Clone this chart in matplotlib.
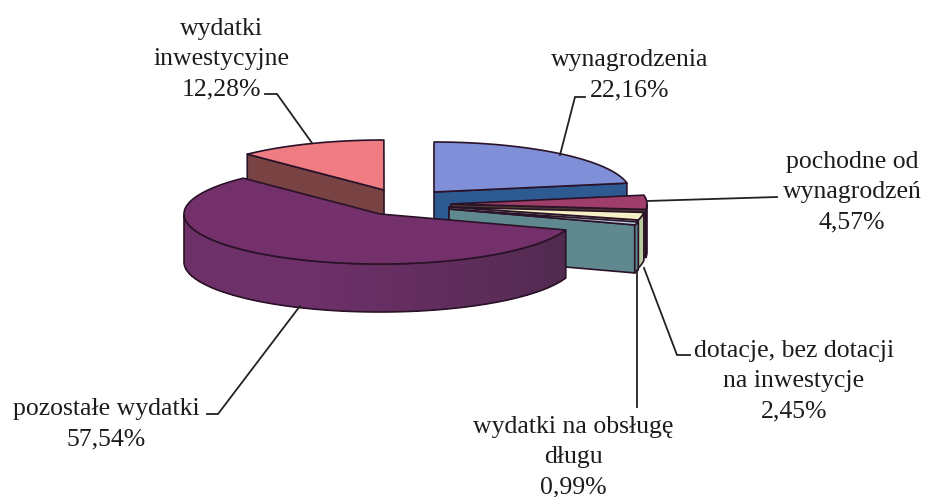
import numpy as np
import matplotlib
matplotlib.use("Agg")
import matplotlib.pyplot as plt
from matplotlib.colors import to_rgb
from matplotlib.patches import Polygon

plt.rcParams["font.family"] = ["Liberation Serif", "DejaVu Serif"]

# ---- data (clockwise from 12 o'clock) ---------------------------------
names = ["wynagrodzenia", "pochodne", "dotacje", "dlug", "pozostale", "inwestycje"]
shares = [22.16, 4.57, 2.45, 0.99, 57.54, 12.28]

# ---- look of each slice ------------------------------------------------
top_colors = ["#7f8fd8", "#a03e6a", "#f6f1c4", "#b9cfe0", "#74306a", "#ee7c82"]
wall_colors = ["#2e5a92", "#4a3a30", "#b9cca0", "#5f898e", "#4f2a4e", "#7a4343"]
wall_far = "#6d3068"  # purple rim gets lighter towards the left
# pie centre in pixels per slice (the explosion)
centers = [(434, 192), (451, 204), (449, 207), (449, 209), (380, 214), (384, 190)]
draw_order = [5, 0, 1, 2, 3, 4]
RX, RY, DEPTH = 196, 50, 48
EDGE = "#2a1228"

# label lines, centre x, baseline of the first line
labels = [
    (["wynagrodzenia", "22,16%"], 630, 66),
    (["pochodne od", "wynagrodzeń", "4,57%"], 852, 168),
    (["dotacje, bez dotacji", "na inwestycje", "2,45%"], 794, 357),
    (["wydatki na obsługę", "długu", "0,99%"], 573, 433),
    (["pozostałe wydatki", "57,54%"], 106, 415),
    (["wydatki", "inwestycyjne", "12,28%"], 221, 35),
]
LINE_STEP = 30
leaders = [
    ([585, 575, 560], [97, 97, 155]),
    ([647, 777], [201, 197]),
    ([644, 677, 690], [268, 355, 355]),
    ([637, 637], [270, 407]),
    ([300, 218, 207], [306, 414, 414]),
    ([265, 277, 312], [94, 94, 143]),
]


def arc(cx, cy, t1, t2, dy=0.0):
    t = np.radians(np.linspace(t1, t2, max(int(abs(t2 - t1)) * 2, 2) + 1))
    return np.column_stack([cx + RX * np.sin(t), cy - RY * np.cos(t) + dy])


fig = plt.figure(figsize=(9.25, 4.97), dpi=100)
ax = fig.add_axes([0, 0, 1, 1])
ax.set_xlim(0, 925)
ax.set_ylim(497, 0)
ax.axis("off")

ends = np.cumsum(shares) * 3.6
starts = np.concatenate([[0], ends[:-1]])

for i in draw_order:
    cx, cy = centers[i]
    t1, t2 = starts[i], ends[i]
    style = dict(facecolor=wall_colors[i], edgecolor=EDGE, linewidth=1.2, joinstyle="round")
    # radial walls which face the viewer
    for t, visible in ((t1, np.sin(np.radians(t1)) < -1e-6), (t2, np.sin(np.radians(t2)) > 1e-6)):
        if visible:
            p = arc(cx, cy, t, t + 0.001)[0]
            ax.add_patch(Polygon([(cx, cy), p, (p[0], p[1] + DEPTH), (cx, cy + DEPTH)], **style))
    # outer wall, only the front half of the rim
    a, b = max(t1, 90), min(t2, 270)
    if b > a:
        upper = arc(cx, cy, a, b)
        lower = arc(cx, cy, a, b, DEPTH)[::-1]
        if names[i] == "pozostale":
            # shaded in strips, outline goes on top
            near, far = np.array(to_rgb(wall_colors[i])), np.array(to_rgb(wall_far))
            steps = np.linspace(a, b, 61)
            for s0, s1 in zip(steps[:-1], steps[1:]):
                f = min(1.0, (s0 - a) / (b - a) * 1.8)
                ax.add_patch(Polygon(np.vstack([arc(cx, cy, s0, s1), arc(cx, cy, s0, s1, DEPTH)[::-1]]),
                                     facecolor=near + (far - near) * f, edgecolor="none", linewidth=0, antialiased=False))
            ax.add_patch(Polygon(np.vstack([upper, lower]), facecolor="none", edgecolor=EDGE, linewidth=1.2))
        else:
            ax.add_patch(Polygon(np.vstack([upper, lower]), **style))
    # top face
    ax.add_patch(Polygon(np.vstack([[(cx, cy)], arc(cx, cy, t1, t2)]),
                         facecolor=top_colors[i], edgecolor=EDGE, linewidth=1.2, joinstyle="round"))

for xs, ys in leaders:
    ax.plot(xs, ys, color="#222222", linewidth=1.3, solid_joinstyle="miter")

for lines, x, y in labels:
    for k, line in enumerate(lines):
        ax.text(x, y + k * LINE_STEP, line, ha="center", va="baseline", fontsize=18.5, color="#1c1c1c")

fig.savefig("out.png", dpi=100)
